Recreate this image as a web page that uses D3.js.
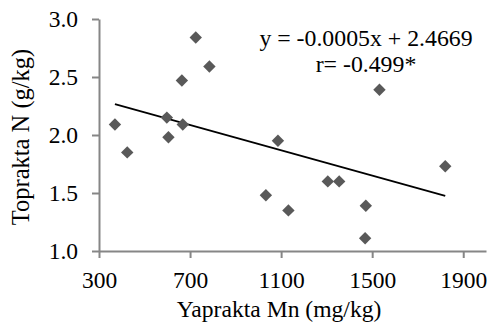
<!DOCTYPE html>
<html>
<head>
    <meta charset="utf-8">
    <title>Yaprakta Mn - Toprakta N</title>
    <script src="https://d3js.org/d3.v7.min.js"></script>
    <style>
        body { margin: 0; background: #ffffff; }
    </style>
</head>
<body>
<div id="chart"></div>
<script>
    // leaf Mn (mg/kg) and soil N (g/kg)
    const mnValues = [370, 424, 598, 605, 664, 668, 725, 785, 1086, 1532, 1821, 1033, 1132, 1305, 1355, 1472, 1469];
    const nValues  = [2.09, 1.85, 2.15, 1.98, 2.47, 2.09, 2.84, 2.59, 1.95, 2.39, 1.73, 1.48, 1.35, 1.60, 1.60, 1.39, 1.11];
    const xTicks = [300, 700, 1100, 1500, 1900];
    const yTicks = [1.0, 1.5, 2.0, 2.5, 3.0];
    const equationLines = ["y = -0.0005x + 2.4669", "r= -0.499*"];

    const W = 489, H = 327;
    const margin = {top: 19, right: 3, bottom: 76, left: 99};
    const serif = "'Liberation Serif', 'Times New Roman', Times, 'DejaVu Serif', serif";

    const svg = d3.select("#chart").append("svg")
        .attr("width", W)
        .attr("height", H)
        .style("font-family", serif);

    const x = d3.scaleLinear().domain([300, 2000]).range([margin.left, W - margin.right]);
    const y = d3.scaleLinear().domain([1, 3]).range([H - margin.bottom, margin.top]);

    const axisColor = "#868686";

    // y axis
    const yAxis = svg.append("g")
        .attr("transform", `translate(${margin.left},0)`)
        .call(d3.axisLeft(y).tickValues(yTicks).tickFormat(d3.format(".1f")).tickSize(7).tickSizeOuter(0).tickPadding(14));
    // x axis
    const xAxis = svg.append("g")
        .attr("transform", `translate(0,${H - margin.bottom})`)
        .call(d3.axisBottom(x).tickValues(xTicks).tickFormat(d3.format("d")).tickSize(7).tickSizeOuter(0).tickPadding(13));

    [xAxis, yAxis].forEach(g => {
        g.attr("font-family", null).attr("font-size", null);
        g.select(".domain").attr("stroke", axisColor).attr("stroke-width", 2);
        g.selectAll(".tick line").attr("stroke", axisColor).attr("stroke-width", 2);
        g.selectAll(".tick text")
            .style("font-family", serif)
            .style("font-size", "23.5px");
    });

    // regression line from the points
    const n = mnValues.length;
    const mx = d3.mean(mnValues), my = d3.mean(nValues);
    let sxy = 0, sxx = 0;
    for (let i = 0; i < n; i++) {
        sxy += (mnValues[i] - mx) * (nValues[i] - my);
        sxx += (mnValues[i] - mx) * (mnValues[i] - mx);
    }
    const slope = sxy / sxx;
    const intercept = my - slope * mx;
    const x0 = d3.min(mnValues), x1 = d3.max(mnValues);

    svg.append("line")
        .attr("x1", x(x0)).attr("y1", y(intercept + slope * x0))
        .attr("x2", x(x1)).attr("y2", y(intercept + slope * x1))
        .attr("stroke", "#000")
        .attr("stroke-width", 1.7);

    // diamond markers
    const r = 6.2;
    svg.append("g")
        .selectAll("path")
        .data(mnValues.map((v, i) => ({mn: v, n: nValues[i]})))
        .join("path")
        .attr("transform", d => `translate(${x(d.mn)},${y(d.n)})`)
        .attr("d", `M0,${-r}L${r},0L0,${r}L${-r},0Z`)
        .attr("fill", "#595959");

    // equation text
    svg.append("g")
        .selectAll("text")
        .data(equationLines)
        .join("text")
        .attr("x", 366)
        .attr("y", (d, i) => 46 + i * 26)
        .attr("text-anchor", "middle")
        .style("font-size", "23.8px")
        .text(d => d);

    // axis titles
    svg.append("text")
        .attr("x", 279)
        .attr("y", 317)
        .attr("text-anchor", "middle")
        .style("font-size", "23.6px")
        .text("Yaprakta Mn (mg/kg)");

    svg.append("text")
        .attr("transform", "translate(29,137) rotate(-90)")
        .attr("text-anchor", "middle")
        .style("font-size", "24.5px")
        .text("Toprakta N (g/kg)");
</script>
</body>
</html>
